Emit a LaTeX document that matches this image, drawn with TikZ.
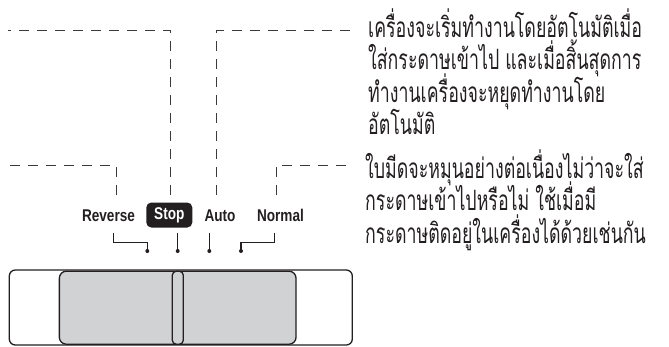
\documentclass[tikz,border=0pt]{standalone}
\usepackage{fontspec}
\newfontfamily\thaifont[Script=Thai,FakeStretch=0.635]{Loma}
\newfontfamily\labfont[FakeStretch=0.8]{Liberation Sans Bold}
\definecolor{ink}{HTML}{231F20}
\definecolor{dashgray}{HTML}{3A3A3A}
\definecolor{slidegray}{HTML}{D1D2D4}
\newcommand{\thaipar}[1]{\parbox[t]{400pt}{\raggedright\lineskiplimit=-100pt\lineskip=0pt #1}}
\tikzset{
  leader/.style={draw=dashgray, line width=0.9pt, dash pattern=on 10pt off 8pt},
  pointer/.style={draw=ink, line width=1.3pt},
  lab/.style={font=\labfont\fontsize{17}{17}\selectfont, text=ink, inner sep=0pt},
  para/.style={font=\thaifont\fontsize{28}{32.5}\selectfont, text=ink, inner sep=0pt, anchor=base west},
  dotmark/.style={circle, fill=ink, inner sep=0pt, minimum size=4pt},
  slideframe/.style={draw=ink, line width=1.3pt, rounded corners=6pt}
}
\begin{document}
\begin{tikzpicture}[x=1pt,y=-1pt]
\useasboundingbox (0,0) rectangle (669,346);
% labels
\node[lab] (rev) at (108.5,215.8) {Reverse};
\node[fill=ink, rounded corners=5pt, minimum width=46pt, minimum height=25pt, inner sep=0pt] (stopbox) at (169.3,215) {};
\node[lab, text=white] (stop) at (169.3,215.8) {Stop};
\node[lab] (auto) at (220,215.8) {Auto};
\node[lab] (norm) at (280.5,215.8) {Normal};
% paragraphs
\node[para] (p1) at (368,37) {\thaipar{%
เครื่องจะเริ่มทำงานโดยอัตโนมัติเมื่อ\\
ใส่กระดาษเข้าไป และเมื่อสิ้นสุดการ\\
ทำงานเครื่องจะหยุดทำงานโดย\\
อัตโนมัติ}};
\node[para] (p2) at (365,178) {\thaipar{%
ใบมีดจะหมุนอย่างต่อเนื่องไม่ว่าจะใส่\\
กระดาษเข้าไปหรือไม่ ใช้เมื่อมี\\
กระดาษติดอยู่ในเครื่องได้ด้วยเช่นกัน}};
% leader coordinates
\coordinate (stopUp) at (170,195);
\coordinate (stopL) at (8,30);
\coordinate (autoUp) at (216.7,195);
\coordinate (autoR) at (353,30);
\coordinate (revUp) at (116,195);
\coordinate (revL) at (8,165);
\coordinate (normUp) at (276,195);
\coordinate (normR) at (353,165);
\draw[leader] (stopUp) |- (stopL);
\draw[leader] (autoUp) |- (autoR);
\draw[leader] (revUp) |- (revL);
\draw[leader] (normUp) |- (normR);
% pointers
\node[dotmark] (dRev) at (147.3,251) {};
\node[dotmark] (dStop) at (177.7,251) {};
\node[dotmark] (dAuto) at (209.3,251) {};
\node[dotmark] (dNorm) at (241,251) {};
\coordinate (revDown) at (113.3,232.7);
\coordinate (stopDown) at (177.7,232.7);
\coordinate (autoDown) at (209.3,232.7);
\coordinate (normDown) at (274.3,232.7);
\draw[pointer] (revDown) -- (113.3,242.7) -| (dRev.center);
\draw[pointer] (stopDown) -- (dStop.center);
\draw[pointer] (autoDown) -- (dAuto.center);
\draw[pointer] (normDown) -- (274.3,242.7) -| (dNorm.center);
% slider
\node[slideframe, minimum width=343pt, minimum height=75pt, inner sep=0pt] (frame) at (180.8,307.5) {};
\node[slideframe, fill=slidegray, rounded corners=7pt, minimum width=236.7pt, minimum height=73pt, inner sep=0pt] (bar) at (177.7,307.7) {};
\node[slideframe, fill=slidegray, rounded corners=4pt, minimum width=11pt, minimum height=73pt, inner sep=0pt] (knob) at (177.8,307.7) {};
\end{tikzpicture}
\end{document}
